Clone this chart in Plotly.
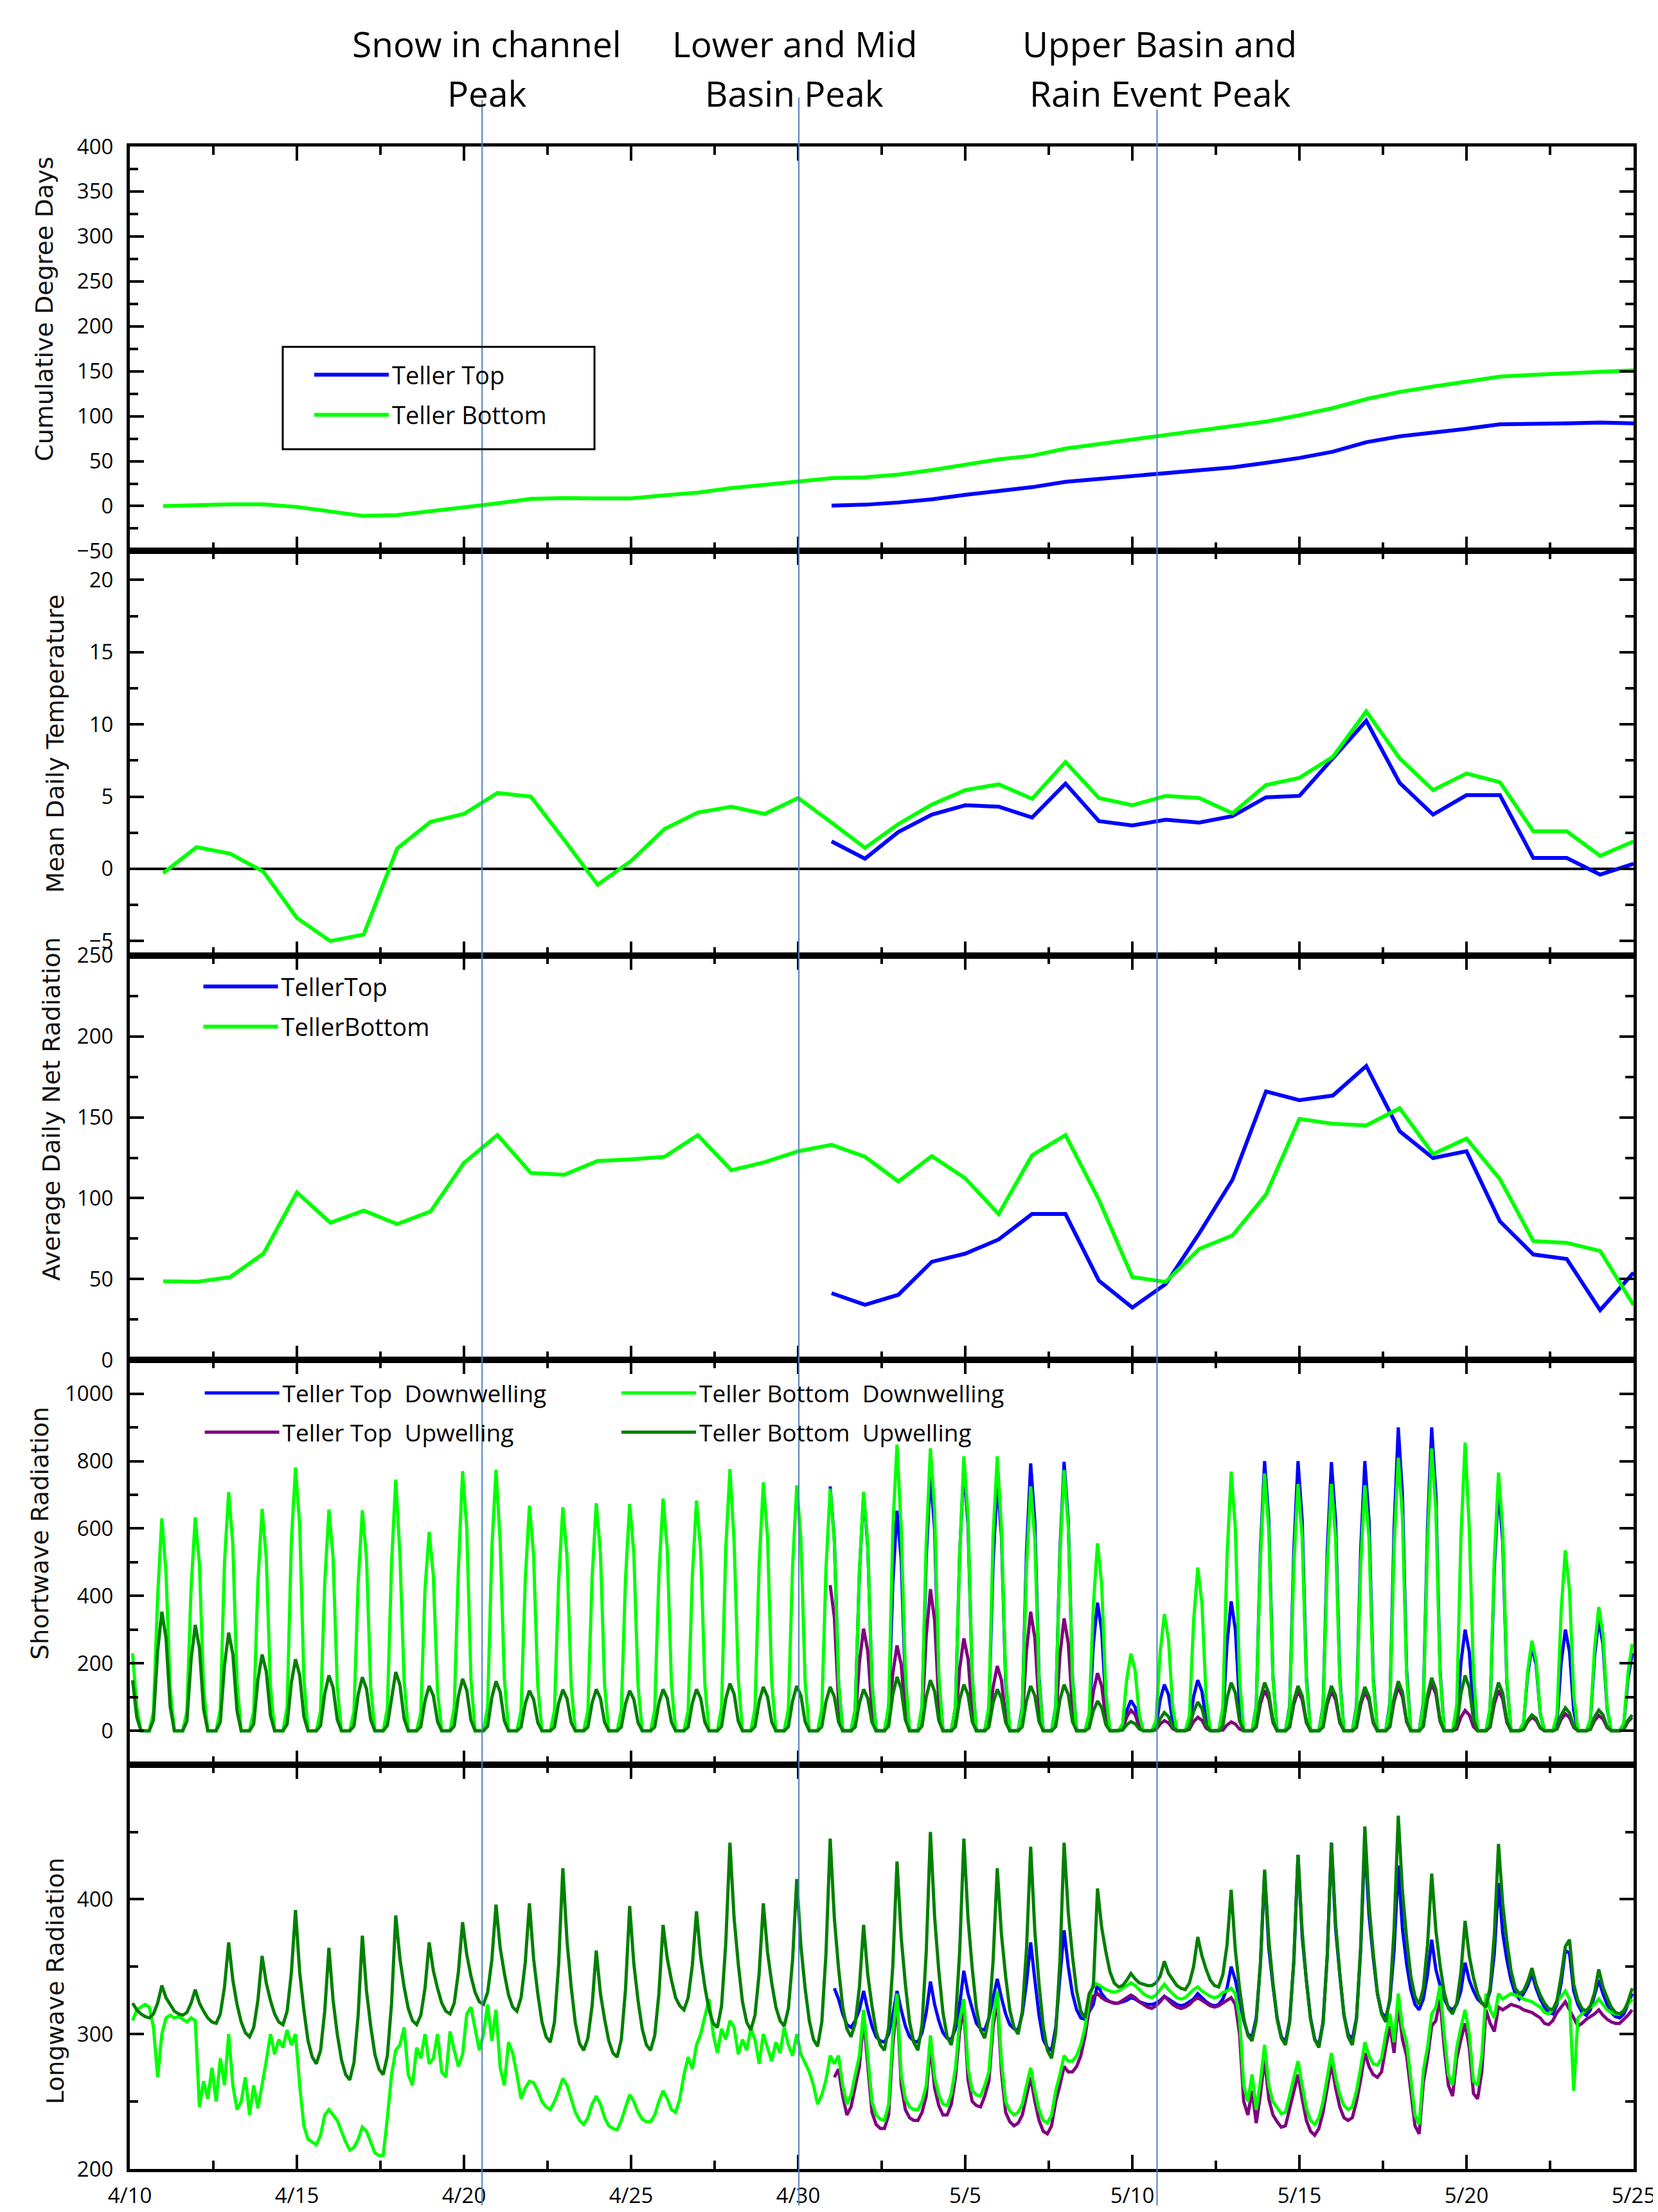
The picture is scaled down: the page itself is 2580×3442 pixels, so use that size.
import datetime as dt
import plotly.graph_objects as go
from plotly.subplots import make_subplots

START = dt.datetime(2013, 4, 10)
END = dt.datetime(2013, 5, 25)
HOURS = [2, 5, 8, 11, 14, 17, 20, 23]   # sampling hours of each day for the sub-daily series
DAY_MS = 86400000

BLUE = "#0000FF"
GREEN = "#00FF00"
PURPLE = "#800080"
DKGREEN = "#008000"
EVENT_COLOR = "#4F81BD"

# ---------------- daily categories ----------------
bottom_dates = [(START + dt.timedelta(days=i)).strftime("%Y-%m-%d") for i in range(1, 46)]   # 4/11 .. 5/25
top_dates = [(START + dt.timedelta(days=i)).strftime("%Y-%m-%d") for i in range(21, 46)]     # 5/1 .. 5/25

# ---------------- panel 1 : cumulative degree days ----------------
cdd_bottom = [0, 1.5, 2, 2, -1, -6, -11, -10, -6, -2, 3, 8, 9, 8.5, 8.5, 12, 15, 20, 24, 27.5,
              31, 32, 35, 40, 46, 52, 56, 64, 69, 74, 79, 83, 88, 94, 101, 109, 119, 127, 133, 139,
              144, 146, 148, 149, 151]
cdd_top = [0.5, 1.5, 4, 7.5, 12.5, 17, 21, 27, 30, 34, 37, 40, 43, 48, 53.5, 60.5, 71, 77.5, 81.5, 86,
           91, 91, 92, 93, 92]

# ---------------- panel 2 : mean daily temperature ----------------
temp_bottom = [-0.3, 1.5, 1.05, -0.2, -3.4, -5.0, -4.55, 1.4, 3.25, 3.8, 5.25, 5.0, 2.0, -1.1, 0.55,
               2.75, 3.9, 4.3, 3.8, 4.9, 3.2, 1.45, 3.1, 4.45, 5.45, 5.85, 4.85, 7.4, 4.9, 4.4,
               5.05, 4.9, 3.85, 5.8, 6.3, 7.75, 10.9, 7.65, 5.45, 6.6, 6.0, 2.6, 2.6, 0.9, 1.9]
temp_top = [1.9, 0.7, 2.55, 3.75, 4.4, 4.3, 3.55, 5.9, 3.3, 3.0, 3.4, 3.2, 3.65, 4.95, 5.05, 7.65,
            10.25, 5.95, 3.75, 5.1, 5.1, 0.75, 0.75, -0.4, 0.35]

# ---------------- panel 3 : average daily net radiation ----------------
netrad_bottom = [48.6, 48.3, 51.2, 65.7, 103.5, 84.9, 92.3, 84, 91.8, 121.8, 139, 115.6, 114.5, 123,
                 124, 125.6, 139, 117.3, 122.3, 129, 133, 125.6, 110.3, 126, 112.3, 90.2, 126.5, 139,
                 99, 51.2, 48.3, 68.6, 77, 102.3, 149, 146, 145, 155.6, 127.3, 136.8, 111.8, 73.5,
                 72.4, 67.4, 34]
netrad_top = [41.3, 34.1, 40.3, 60.7, 65.7, 74.5, 90.2, 90.2, 49, 32.4, 47, 78.2, 111.5, 166, 160.6,
              163.4, 181.7, 141.4, 124.8, 129, 85.7, 65.2, 62.4, 30.8, 54]

# ---------------- panel 4 : shortwave (one list per day, values at HOURS) ----------------
sw_bottom_down = [  # 4/10 .. 5/24
    [230, 70, 0, 0, 0, 57, 400, 630], [470, 126, 0, 0, 0, 57, 424, 633], [494, 127, 0, 0, 0, 64, 500, 708],
    [552, 142, 0, 0, 0, 59, 441, 658], [513, 132, 0, 0, 0, 70, 560, 781], [609, 156, 0, 0, 0, 59, 440, 656],
    [512, 131, 0, 0, 0, 59, 438, 654], [510, 131, 0, 0, 0, 67, 499, 745], [520, 149, 0, 0, 0, 53, 420, 590],
    [460, 118, 0, 0, 0, 69, 480, 770], [601, 154, 0, 0, 0, 70, 540, 774], [560, 155, 0, 0, 0, 60, 448, 668],
    [521, 134, 0, 0, 0, 60, 444, 663], [517, 133, 0, 0, 0, 61, 452, 675], [527, 135, 0, 0, 0, 61, 451, 673],
    [525, 135, 0, 0, 0, 62, 462, 689], [537, 138, 0, 0, 0, 61, 458, 683], [533, 137, 0, 0, 0, 70, 540, 776],
    [560, 155, 0, 0, 0, 66, 494, 737], [575, 147, 0, 0, 0, 66, 488, 728], [568, 146, 0, 0, 0, 65, 481, 718],
    [560, 144, 0, 0, 0, 64, 475, 709], [553, 142, 0, 0, 0, 76, 600, 849], [600, 170, 0, 0, 0, 75, 561, 838],
    [654, 168, 0, 0, 0, 73, 520, 814], [635, 163, 0, 0, 0, 73, 580, 814], [600, 163, 0, 0, 0, 65, 486, 725],
    [566, 145, 0, 0, 0, 70, 518, 773], [603, 155, 0, 0, 0, 50, 373, 556], [434, 111, 0, 0, 0, 21, 153, 229],
    [179, 46, 0, 0, 0, 31, 232, 346], [270, 69, 0, 0, 0, 44, 324, 484], [378, 97, 0, 0, 0, 69, 515, 769],
    [600, 154, 0, 0, 0, 69, 511, 763], [595, 153, 0, 0, 0, 66, 490, 732], [571, 146, 0, 0, 0, 66, 490, 732],
    [571, 146, 0, 0, 0, 66, 488, 728], [568, 146, 0, 0, 0, 73, 543, 810], [632, 162, 0, 0, 0, 75, 561, 838],
    [654, 168, 0, 0, 0, 77, 573, 855], [600, 171, 0, 0, 0, 69, 513, 766], [597, 153, 0, 0, 0, 24, 179, 267],
    [208, 53, 0, 0, 0, 48, 358, 535], [417, 107, 0, 0, 0, 33, 246, 367], [286, 73, 0, 0, 0, 23, 172, 257],
]
sw_bottom_up = [  # 4/10 .. 5/24
    [150, 40, 0, 0, 0, 32, 237, 353], [275, 71, 0, 0, 0, 28, 210, 314], [245, 63, 0, 0, 0, 26, 195, 291],
    [227, 58, 0, 0, 0, 20, 151, 226], [176, 45, 0, 0, 0, 19, 142, 212], [165, 42, 0, 0, 0, 15, 110, 164],
    [128, 33, 0, 0, 0, 14, 107, 159], [124, 32, 0, 0, 0, 16, 100, 174], [136, 35, 0, 0, 0, 12, 89, 133],
    [104, 27, 0, 0, 0, 14, 103, 154], [120, 31, 0, 0, 0, 13, 98, 147], [115, 29, 0, 0, 0, 11, 80, 119],
    [93, 24, 0, 0, 0, 11, 82, 122], [95, 24, 0, 0, 0, 11, 82, 123], [96, 25, 0, 0, 0, 11, 80, 119],
    [93, 24, 0, 0, 0, 11, 82, 123], [96, 25, 0, 0, 0, 11, 82, 123], [96, 25, 0, 0, 0, 13, 94, 140],
    [109, 28, 0, 0, 0, 12, 87, 130], [101, 26, 0, 0, 0, 12, 89, 133], [104, 27, 0, 0, 0, 12, 87, 130],
    [101, 26, 0, 0, 0, 11, 82, 123], [96, 25, 0, 0, 0, 14, 107, 160], [125, 32, 0, 0, 0, 14, 101, 150],
    [117, 30, 0, 0, 0, 12, 92, 137], [107, 27, 0, 0, 0, 11, 82, 123], [96, 25, 0, 0, 0, 12, 89, 133],
    [104, 27, 0, 0, 0, 12, 92, 137], [107, 27, 0, 0, 0, 8, 59, 88], [69, 18, 0, 0, 0, 2, 18, 27],
    [21, 5, 0, 0, 0, 5, 36, 54], [42, 11, 0, 0, 0, 8, 57, 85], [66, 17, 0, 0, 0, 13, 96, 143],
    [112, 29, 0, 0, 0, 13, 96, 143], [112, 29, 0, 0, 0, 12, 89, 133], [104, 27, 0, 0, 0, 12, 89, 133],
    [104, 27, 0, 0, 0, 12, 87, 130], [101, 26, 0, 0, 0, 13, 98, 147], [115, 29, 0, 0, 0, 14, 105, 157],
    [122, 31, 0, 0, 0, 15, 110, 164], [128, 33, 0, 0, 0, 13, 96, 143], [112, 29, 0, 0, 0, 4, 31, 47],
    [37, 9, 0, 0, 0, 6, 46, 68], [53, 14, 0, 0, 0, 5, 41, 61], [48, 12, 0, 0, 0, 4, 31, 47],
]
sw_top_down = [  # 4/30 .. 5/24
    [None, None, None, None, None, None, None, 725],
    [566, 145, 0, 0, 0, 63, 469, 700], [546, 140, 0, 0, 0, 59, 438, 653], [509, 131, 0, 0, 0, 69, 513, 765],
    [597, 153, 0, 0, 0, 70, 525, 783], [611, 157, 0, 0, 0, 67, 496, 741], [578, 148, 0, 0, 0, 71, 531, 793],
    [619, 159, 0, 0, 0, 72, 535, 798], [622, 160, 0, 0, 0, 34, 255, 380], [296, 76, 0, 0, 0, 8, 60, 90],
    [70, 18, 0, 0, 0, 12, 92, 137], [107, 27, 0, 0, 0, 14, 101, 150], [117, 30, 0, 0, 0, 35, 257, 384],
    [300, 77, 0, 0, 0, 72, 536, 800], [624, 160, 0, 0, 0, 72, 536, 800], [624, 160, 0, 0, 0, 72, 534, 797],
    [622, 159, 0, 0, 0, 72, 536, 800], [624, 160, 0, 0, 0, 81, 603, 900], [702, 180, 0, 0, 0, 81, 603, 900],
    [702, 180, 0, 0, 0, 27, 201, 300], [234, 60, 0, 0, 0, 65, 483, 721], [562, 144, 0, 0, 0, 23, 168, 250],
    [195, 50, 0, 0, 0, 27, 201, 300], [234, 60, 0, 0, 0, 30, 221, 330], [257, 66, 0, 0, 0, 21, 154, 230],
]
sw_top_up = [  # 4/30 .. 5/24
    [None, None, None, None, None, None, None, 432],
    [337, 86, 0, 0, 0, 27, 203, 303], [236, 61, 0, 0, 0, 23, 170, 253], [197, 51, 0, 0, 0, 38, 281, 420],
    [328, 84, 0, 0, 0, 25, 184, 274], [214, 55, 0, 0, 0, 17, 129, 192], [150, 38, 0, 0, 0, 32, 237, 353],
    [275, 71, 0, 0, 0, 30, 223, 333], [260, 67, 0, 0, 0, 15, 115, 171], [133, 34, 0, 0, 0, 5, 41, 61],
    [48, 12, 0, 0, 0, 3, 20, 30], [23, 6, 0, 0, 0, 4, 27, 40], [31, 8, 0, 0, 0, 2, 17, 26],
    [20, 5, 0, 0, 0, 11, 80, 120], [94, 24, 0, 0, 0, 11, 79, 118], [92, 24, 0, 0, 0, 11, 79, 118],
    [92, 24, 0, 0, 0, 10, 77, 115], [90, 23, 0, 0, 0, 12, 87, 130], [101, 26, 0, 0, 0, 13, 94, 140],
    [109, 28, 0, 0, 0, 5, 40, 60], [47, 12, 0, 0, 0, 11, 80, 120], [94, 24, 0, 0, 0, 4, 27, 40],
    [31, 8, 0, 0, 0, 5, 34, 50], [39, 10, 0, 0, 0, 4, 30, 45], [35, 9, 0, 0, 0, 4, 27, 40],
]

# ---------------- panel 5 : longwave (one list per day, values at HOURS) ----------------
lw_bottom_down = [  # 4/10 .. 5/24 (bright green)
    [310, 318, 320, 322, 320, 305, 268, 300], [312, 314, 312, 313, 311, 309, 312, 310],
    [246, 265, 252, 275, 250, 282, 262, 300], [262, 244, 250, 268, 240, 262, 245, 262],
    [280, 300, 285, 296, 290, 303, 292, 300], [262, 232, 222, 220, 218, 225, 240, 244],
    [240, 236, 228, 220, 214, 216, 222, 231], [228, 220, 212, 210, 210, 238, 270, 288],
    [292, 305, 270, 262, 290, 282, 300, 278], [282, 300, 272, 268, 302, 288, 276, 285],
    [315, 320, 305, 288, 300, 322, 295, 318], [275, 262, 294, 286, 270, 252, 260, 265],
    [264, 258, 250, 246, 244, 250, 258, 267], [262, 252, 242, 236, 233, 238, 248, 254],
    [248, 238, 232, 230, 229, 236, 246, 255], [250, 242, 237, 235, 235, 240, 250, 258],
    [252, 244, 242, 252, 270, 283, 274, 292], [300, 312, 326, 300, 286, 304, 296, 310],
    [305, 285, 296, 288, 304, 296, 278, 300], [290, 280, 294, 286, 305, 292, 284, 300],
    [285, 278, 272, 262, 248, 255, 266, 284], [278, 284, 262, 248, 255, 270, 284, 318],
    [285, 250, 240, 237, 236, 248, 300, 330], [270, 252, 246, 244, 244, 250, 262, 299],
    [268, 255, 248, 247, 256, 275, 310, 326], [275, 258, 255, 254, 262, 272, 312, 332],
    [280, 250, 243, 240, 242, 248, 262, 275], [258, 244, 236, 234, 240, 258, 270, 284],
    [280, 280, 284, 292, 305, 325, 338, 337], [335, 333, 332, 331, 332, 334, 336, 338],
    [336, 333, 330, 328, 327, 329, 333, 337], [333, 330, 327, 326, 327, 330, 333, 335],
    [332, 330, 328, 327, 328, 331, 332, 334], [330, 312, 262, 250, 270, 244, 265, 292],
    [262, 250, 245, 241, 242, 255, 268, 280], [262, 245, 236, 233, 238, 250, 268, 286],
    [268, 255, 247, 244, 246, 258, 275, 294], [284, 278, 277, 282, 300, 315, 294, 330],
    [305, 294, 267, 240, 233, 273, 290, 315], [320, 336, 300, 270, 262, 290, 305, 318],
    [300, 265, 262, 284, 330, 318, 312, 330], [326, 328, 330, 329, 328, 326, 325, 324],
    [322, 320, 316, 315, 318, 324, 328, 332], [326, 258, 312, 315, 318, 320, 322, 326],
    [322, 318, 316, 315, 315, 318, 322, 326],
]
lw_bottom_up = [  # 4/10 .. 5/24 (dark green)
    [323, 318, 315, 313, 312, 315, 323, 336], [327, 322, 317, 315, 314, 316, 323, 333],
    [323, 317, 312, 309, 308, 315, 335, 368], [340, 322, 309, 301, 298, 305, 325, 358],
    [338, 325, 315, 309, 307, 317, 345, 392], [346, 318, 295, 283, 278, 288, 317, 364],
    [325, 300, 281, 270, 266, 279, 314, 373], [332, 306, 285, 274, 270, 284, 323, 388],
    [356, 335, 319, 310, 307, 314, 334, 368], [347, 334, 323, 317, 315, 323, 346, 383],
    [359, 343, 331, 324, 322, 331, 355, 396], [364, 345, 329, 320, 317, 327, 353, 397],
    [356, 330, 309, 298, 294, 309, 352, 423], [369, 335, 308, 293, 288, 297, 321, 362],
    [330, 311, 295, 286, 283, 296, 333, 395], [352, 325, 304, 292, 288, 299, 330, 381],
    [356, 340, 327, 321, 318, 327, 351, 391], [357, 335, 318, 308, 305, 321, 367, 442],
    [386, 352, 324, 309, 303, 314, 345, 397], [361, 338, 320, 310, 306, 319, 355, 415],
    [365, 334, 310, 296, 291, 309, 360, 445], [386, 349, 320, 304, 298, 308, 335, 381],
    [344, 321, 302, 292, 288, 305, 351, 428], [372, 337, 309, 294, 288, 307, 361, 450],
    [387, 347, 316, 298, 292, 310, 361, 445], [386, 349, 319, 303, 297, 312, 354, 423],
    [374, 343, 318, 305, 300, 317, 363, 439], [376, 337, 306, 288, 282, 301, 354, 442],
    [390, 358, 332, 317, 312, 330, 335, 408], [379, 361, 346, 338, 335, 336, 340, 345],
    [341, 338, 337, 336, 336, 338, 343, 354], [345, 340, 336, 334, 333, 338, 350, 372],
    [358, 348, 340, 336, 335, 344, 366, 407], [362, 334, 312, 299, 295, 310, 352, 422],
    [370, 338, 311, 297, 292, 309, 355, 433], [376, 340, 311, 296, 290, 308, 358, 442],
    [382, 345, 314, 298, 292, 311, 365, 454], [396, 360, 331, 315, 309, 327, 378, 462],
    [406, 371, 343, 328, 322, 334, 366, 419], [377, 351, 331, 319, 315, 323, 346, 384],
    [358, 342, 330, 323, 320, 335, 374, 441], [397, 369, 347, 334, 330, 332, 339, 349],
    [337, 329, 323, 319, 318, 325, 343, 365], [370, 337, 325, 319, 317, 321, 331, 348],
    [335, 327, 320, 316, 315, 317, 324, 334],
]
lw_top_down = [  # 5/1 .. 5/24 (blue)
    [334, 326, 315, 307, 305, 310, 318, 332], [318, 306, 298, 295, 294, 300, 314, 332],
    [318, 306, 298, 295, 294, 301, 316, 339], [322, 310, 301, 297, 296, 304, 322, 347],
    [330, 318, 308, 304, 303, 312, 328, 341], [327, 315, 307, 304, 303, 315, 338, 368],
    [340, 314, 296, 290, 288, 305, 342, 377], [350, 330, 318, 312, 311, 316, 322, 337],
    [330, 326, 324, 323, 323, 324, 325, 327], [326, 324, 323, 322, 322, 323, 325, 328],
    [326, 324, 322, 321, 322, 324, 326, 330], [327, 324, 322, 321, 322, 326, 334, 350],
    [340, 325, 310, 300, 298, 312, 352, 420], [364, 336, 312, 298, 294, 310, 354, 433],
    [372, 340, 312, 296, 292, 309, 358, 442], [378, 344, 314, 300, 296, 312, 362, 444],
    [388, 357, 330, 316, 312, 325, 362, 425], [378, 352, 333, 322, 318, 326, 344, 370],
    [348, 336, 326, 320, 318, 322, 332, 353], [340, 332, 326, 323, 322, 332, 360, 412],
    [375, 355, 340, 330, 326, 330, 336, 345], [334, 326, 320, 316, 315, 322, 338, 362],
    [360, 332, 322, 316, 314, 318, 328, 340], [330, 322, 316, 313, 312, 315, 322, 330],
]
lw_top_up = [  # 5/1 .. 5/24 (purple)
    [268, 274, 254, 240, 246, 262, 276, 312], [276, 242, 233, 230, 230, 240, 292, 325],
    [262, 244, 238, 236, 236, 242, 254, 292], [260, 247, 240, 240, 248, 268, 302, 320],
    [266, 250, 247, 246, 254, 265, 305, 326], [272, 242, 235, 232, 234, 240, 254, 268],
    [250, 236, 228, 226, 232, 250, 262, 276], [272, 272, 276, 284, 298, 318, 328, 330],
    [327, 325, 324, 323, 323, 325, 327, 329], [327, 324, 322, 320, 319, 321, 324, 328],
    [325, 322, 320, 319, 320, 322, 325, 327], [325, 323, 321, 320, 321, 323, 325, 327],
    [322, 300, 250, 240, 258, 234, 255, 282], [252, 240, 235, 231, 232, 245, 258, 270],
    [252, 236, 228, 225, 230, 242, 260, 278], [260, 246, 238, 236, 238, 250, 266, 286],
    [276, 270, 268, 272, 290, 306, 286, 322], [296, 284, 258, 232, 226, 264, 282, 306],
    [310, 326, 290, 262, 254, 282, 296, 308], [290, 256, 252, 272, 318, 308, 302, 320],
    [318, 320, 322, 321, 320, 318, 317, 316], [314, 312, 308, 307, 310, 316, 320, 324],
    [318, 312, 306, 308, 311, 313, 315, 318], [314, 311, 309, 308, 308, 311, 314, 318],
]

# event markers (vertical lines) and their labels
event_times = ["2013-04-20 13:00", "2013-04-30 00:30", "2013-05-10 17:45"]
event_labels = [("Snow in channel", "Peak"), ("Lower and Mid", "Basin Peak"), ("Upper Basin and", "Rain Event Peak")]


def flatten(day_lists, first_day):
    xs, ys = [], []
    for i, vals in enumerate(day_lists):
        day = START + dt.timedelta(days=first_day + i)
        for h, v in zip(HOURS, vals):
            xs.append((day + dt.timedelta(hours=h)).strftime("%Y-%m-%d %H:%M"))
            ys.append(v)
    return xs, ys


fig = make_subplots(rows=5, cols=1, shared_xaxes=True, vertical_spacing=0)

LW_D = 6
LW_T = 5

def line(color, w):
    return dict(color=color, width=w)

# panel 1
fig.add_trace(go.Scatter(x=top_dates, y=cdd_top, mode="lines", line=line(BLUE, LW_D), name="Teller Top",
                         legend="legend", legendgroup="a1"), row=1, col=1)
fig.add_trace(go.Scatter(x=bottom_dates, y=cdd_bottom, mode="lines", line=line(GREEN, LW_D), name="Teller Bottom",
                         legend="legend", legendgroup="a2"), row=1, col=1)
# panel 2
fig.add_trace(go.Scatter(x=top_dates, y=temp_top, mode="lines", line=line(BLUE, LW_D), showlegend=False), row=2, col=1)
fig.add_trace(go.Scatter(x=bottom_dates, y=temp_bottom, mode="lines", line=line(GREEN, LW_D), showlegend=False), row=2, col=1)
# panel 3
fig.add_trace(go.Scatter(x=top_dates, y=netrad_top, mode="lines", line=line(BLUE, LW_D), name="TellerTop",
                         legend="legend2", legendgroup="b1"), row=3, col=1)
fig.add_trace(go.Scatter(x=bottom_dates, y=netrad_bottom, mode="lines", line=line(GREEN, LW_D), name="TellerBottom",
                         legend="legend2", legendgroup="b2"), row=3, col=1)
# panel 4
x, y = flatten(sw_top_down, 20)
fig.add_trace(go.Scatter(x=x, y=y, mode="lines", line=line(BLUE, LW_T), name="Teller Top\u00a0 Downwelling",
                         legend="legend3", legendgroup="c1"), row=4, col=1)
x, y = flatten(sw_top_up, 20)
fig.add_trace(go.Scatter(x=x, y=y, mode="lines", line=line(PURPLE, LW_T), name="Teller Top\u00a0 Upwelling",
                         legend="legend3", legendgroup="c2"), row=4, col=1)
x, y = flatten(sw_bottom_down, 0)
fig.add_trace(go.Scatter(x=x, y=y, mode="lines", line=line(GREEN, LW_T), name="Teller Bottom\u00a0 Downwelling",
                         legend="legend4", legendgroup="d1"), row=4, col=1)
x, y = flatten(sw_bottom_up, 0)
fig.add_trace(go.Scatter(x=x, y=y, mode="lines", line=line(DKGREEN, LW_T), name="Teller Bottom\u00a0 Upwelling",
                         legend="legend4", legendgroup="d2"), row=4, col=1)
# panel 5
x, y = flatten(lw_top_down, 21)
fig.add_trace(go.Scatter(x=x, y=y, mode="lines", line=line(BLUE, LW_T), showlegend=False), row=5, col=1)
x, y = flatten(lw_top_up, 21)
fig.add_trace(go.Scatter(x=x, y=y, mode="lines", line=line(PURPLE, LW_T), showlegend=False), row=5, col=1)
x, y = flatten(lw_bottom_down, 0)
fig.add_trace(go.Scatter(x=x, y=y, mode="lines", line=line(GREEN, LW_T), showlegend=False), row=5, col=1)
x, y = flatten(lw_bottom_up, 0)
fig.add_trace(go.Scatter(x=x, y=y, mode="lines", line=line(DKGREEN, LW_T), showlegend=False), row=5, col=1)

TICKFONT = dict(family="Open Sans", size=33, color="black")

for r in range(1, 6):
    fig.update_xaxes(row=r, col=1, type="date", range=[START.strftime("%Y-%m-%d"), END.strftime("%Y-%m-%d")],
                     tick0=START.strftime("%Y-%m-%d"), dtick=5 * DAY_MS, tickformat="%-m/%-d",
                     ticks="inside", ticklen=22, tickwidth=4, tickcolor="black",
                     showline=True, linewidth=5, linecolor="black", mirror="ticks",
                     showgrid=False, zeroline=False, showticklabels=(r == 5), tickfont=TICKFONT,
                     ticklabelstandoff=8,
                     minor=dict(ticks="inside", ticklen=13, tickwidth=4, tickcolor="black",
                                dtick=2.5 * DAY_MS, tick0=START.strftime("%Y-%m-%d"), showgrid=False))

yspecs = {
    1: dict(range=[-50, 400], tick0=0, dtick=50, minor=25),
    2: dict(range=[-6, 22], tick0=0, dtick=5, minor=2.5),
    3: dict(range=[0, 250], tick0=0, dtick=50, minor=25),
    4: dict(range=[-100, 1100], tick0=0, dtick=200, minor=100),
}
for r, s in yspecs.items():
    fig.update_yaxes(row=r, col=1, range=s["range"], tick0=s["tick0"], dtick=s["dtick"],
                     minor=dict(ticks="inside", ticklen=13, tickwidth=4, tickcolor="black",
                                tick0=s["tick0"], dtick=s["minor"], showgrid=False))
fig.update_yaxes(row=5, col=1, range=[200, 500], tickmode="array", tickvals=[200, 300, 400],
                 minor=dict(ticks="inside", ticklen=13, tickwidth=4, tickcolor="black",
                            tickmode="array", tickvals=[250, 350, 450], showgrid=False))
for r in range(1, 6):
    fig.update_yaxes(row=r, col=1, ticks="inside", ticklen=22, tickwidth=4, tickcolor="black",
                     showline=True, linewidth=5, linecolor="black", mirror="ticks",
                     showgrid=False, zeroline=(r == 2), zerolinecolor="black", zerolinewidth=4,
                     tickfont=TICKFONT, ticklabelstandoff=14)

# event lines spanning the whole figure height
event_tops = [1.0230, 1.0243, 1.0183]
for t, top in zip(event_times, event_tops):
    fig.add_shape(type="line", xref="x5", yref="paper", x0=t, x1=t, y0=-0.018, y1=top,
                  line=dict(color=EVENT_COLOR, width=2), layer="above")

# legend frame of panel 1
fig.add_shape(type="rect", xref="paper", yref="paper", x0=0.1017, x1=0.309, y0=0.8503, y1=0.9009,
              line=dict(color="black", width=3), fillcolor="rgba(0,0,0,0)", layer="above")

annotations = []
title_x = [0.2375, 0.4419, 0.6850]
for (l1, l2), xp in zip(event_labels, title_x):
    annotations.append(dict(text=l1, x=xp, y=1.0510, xref="paper", yref="paper", showarrow=False,
                            xanchor="center", yanchor="middle", font=dict(family="Open Sans", size=55, color="black")))
    annotations.append(dict(text=l2, x=xp, y=1.0266, xref="paper", yref="paper", showarrow=False,
                            xanchor="center", yanchor="middle", font=dict(family="Open Sans", size=55, color="black")))

axis_titles = [("Cumulative Degree Days", -0.0566, 0.9195),
               ("Mean Daily Temperature", -0.0494, 0.7048),
               ("Average Daily Net Radiation", -0.0519, 0.5242),
               ("Shortwave Radiation", -0.0596, 0.3142),
               ("Longwave Radiation", -0.0494, 0.0931)]
for txt, xp, yp in axis_titles:
    annotations.append(dict(text=txt, x=xp, y=yp, xref="paper", yref="paper", showarrow=False, textangle=-90,
                            xanchor="center", yanchor="middle",
                            font=dict(family="DejaVu Sans", size=38, color="#111111")))

LEGFONT = dict(family="Open Sans", size=38, color="black")
fig.update_layout(
    width=2580, height=3442,
    margin=dict(l=194, r=37, t=220, b=55),
    paper_bgcolor="white", plot_bgcolor="white",
    font=dict(family="Open Sans", color="black"),
    annotations=annotations,
    legend=dict(x=0.1205, y=0.8971, xanchor="left", yanchor="top", bgcolor="rgba(0,0,0,0)",
                font=LEGFONT, itemwidth=116, tracegroupgap=10),
    legend2=dict(x=0.0468, y=0.5946, xanchor="left", yanchor="top", bgcolor="rgba(0,0,0,0)",
                 font=LEGFONT, itemwidth=116, tracegroupgap=10),
    legend3=dict(x=0.0477, y=0.3934, xanchor="left", yanchor="top", bgcolor="rgba(0,0,0,0)",
                 font=dict(family="Open Sans", size=37, color="black"), itemwidth=116, tracegroupgap=10),
    legend4=dict(x=0.3248, y=0.3934, xanchor="left", yanchor="top", bgcolor="rgba(0,0,0,0)",
                 font=dict(family="Open Sans", size=37, color="black"), itemwidth=116, tracegroupgap=10),
)

fig.write_html("out.html")
